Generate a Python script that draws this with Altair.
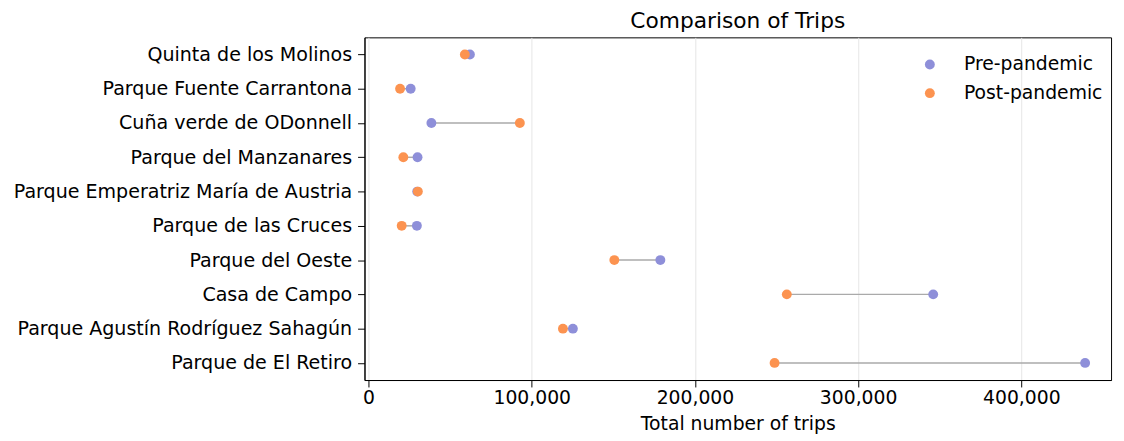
import altair as alt
import pandas as pd

parks = [
    "Quinta de los Molinos",
    "Parque Fuente Carrantona",
    "Cuña verde de ODonnell",
    "Parque del Manzanares",
    "Parque Emperatriz María de Austria",
    "Parque de las Cruces",
    "Parque del Oeste",
    "Casa de Campo",
    "Parque Agustín Rodríguez Sahagún",
    "Parque de El Retiro",
]
pre = [62100, 25800, 38500, 30000, 29800, 29600, 178800, 346000, 125200, 439100]
post = [59000, 19300, 92700, 21300, 30200, 20300, 150600, 256300, 119100, 248800]
periods = ["Pre-pandemic", "Post-pandemic"]
colors = ["#8e8fd9", "#fc9350"]
x_ticks = [0, 100000, 200000, 300000, 400000]

wide = pd.DataFrame({"park": parks, "pre": pre, "post": post})
long = pd.concat([
    pd.DataFrame({"park": parks, "period": periods[0], "trips": pre}),
    pd.DataFrame({"park": parks, "period": periods[1], "trips": post}),
], ignore_index=True)

FONT = "DejaVu Sans"

xscale = alt.Scale(domain=[-2500, 455000], nice=False, zero=False)
xaxis = alt.Axis(
    values=x_ticks,
    labelExpr="format(datum.value, ',')",
    title="Total number of trips",
    labelPadding=2,
    titlePadding=7,
)
yenc = alt.Y(
    "park:N",
    sort=parks,
    scale=alt.Scale(type="point", padding=0.5),
    axis=alt.Axis(title=None, labelLimit=0, labelPadding=6, labelFontSize=19.3),
)

rules = alt.Chart(wide).mark_rule(color="#aaaaaa", strokeWidth=1.5).encode(
    x=alt.X("pre:Q", scale=xscale, axis=xaxis),
    x2="post:Q",
    y=yenc,
)

points = alt.Chart(long).mark_circle(size=100, opacity=1).encode(
    x=alt.X("trips:Q", scale=xscale, axis=xaxis),
    y=yenc,
    color=alt.Color(
        "period:N",
        scale=alt.Scale(domain=periods, range=colors),
        legend=alt.Legend(
            title=None,
            orient="none",
            legendX=563,
            legendY=18,
            padding=0,
            symbolSize=100,
            symbolType="circle",
            labelFontSize=19,
            labelOffset=25,
            rowPadding=9,
            labelFont=FONT,
            labelColor="#000000",
        ),
    ),
)

chart = (
    alt.layer(rules, points)
    .properties(
        width=756,
        height=347,
        padding={"left": 5, "top": 0, "right": 5, "bottom": 5},
        title=alt.TitleParams(
            "Comparison of Trips",
            fontSize=22,
            fontWeight="normal",
            font=FONT,
            color="#000000",
            anchor="middle",
            offset=4,
        ),
    )
    .configure(font=FONT)
    .configure_view(stroke="#000000", strokeWidth=1)
    .configure_axis(
        labelFont=FONT,
        titleFont=FONT,
        labelFontSize=19,
        titleFontSize=19,
        titleFontWeight="normal",
        labelColor="#000000",
        titleColor="#000000",
        domainColor="#000000",
        tickColor="#000000",
        tickSize=7,
        gridColor="#e6e6e6",
        gridWidth=1,
    )
)

chart.save("out.html", embed_options={"renderer": "svg", "actions": False})
